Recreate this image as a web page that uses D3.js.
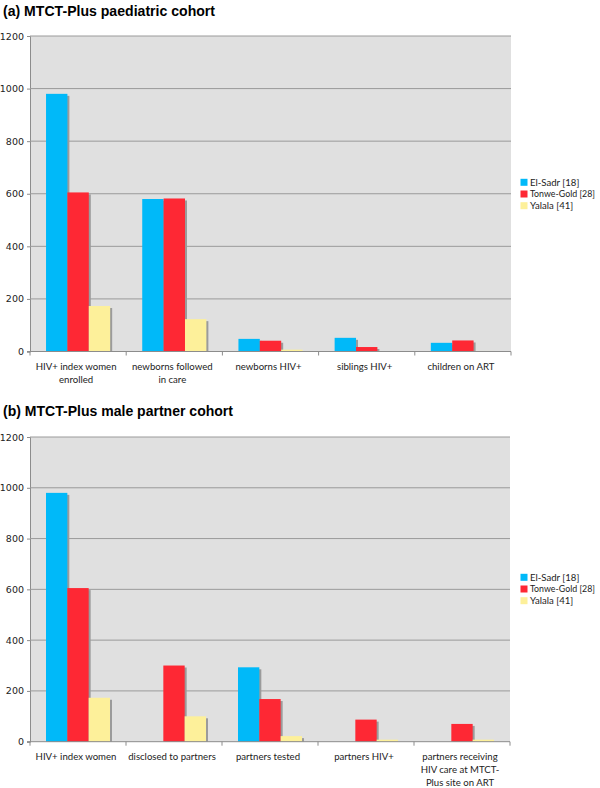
<!DOCTYPE html>
<html><head><meta charset="utf-8">
<script src="https://cdn.jsdelivr.net/npm/d3@7"></script>
<style>body{margin:0;background:#fff}svg{display:block}</style>
</head><body>
<svg id="chart" width="600" height="788"></svg>
<script>
const seriesNames = ["El-Sadr [18]", "Tonwe-Gold [28]", "Yalala [41]"];
const seriesColors = ["#00b9f9", "#fe2834", "#fdf09a"];
const yTicks = [0, 200, 400, 600, 800, 1000, 1200];

const titleA = "(a) MTCT-Plus paediatric cohort";
const categoriesA = ["HIV+ index women\nenrolled", "newborns followed\nin care", "newborns HIV+", "siblings HIV+", "children on ART"];
const elSadrA = [980, 580, 48, 52, 33];
const tonweA = [605, 582, 41, 17, 42];
const yalalaA = [173, 123, 7, 0, 2];

const titleB = "(b) MTCT-Plus male partner cohort";
const categoriesB = ["HIV+ index women", "disclosed to partners", "partners tested", "partners HIV+", "partners receiving\nHIV care at MTCT-\nPlus site on ART"];
const elSadrB = [980, 0, 293, 0, 0];
const tonweB = [605, 300, 168, 87, 70];
const yalalaB = [173, 100, 22, 8, 8];

const svg = d3.select("#chart");
const labelFont = "Lato, 'Liberation Sans', sans-serif";

function drawPanel(cfg) {
  const g = svg.append("g");
  g.append("text").attr("x", 3).attr("y", cfg.titleY)
    .attr("font-family", "'Liberation Sans', Arial, sans-serif")
    .attr("font-weight", "bold").attr("font-size", 15).attr("fill", "#000")
    .attr("textLength", cfg.titleLen).attr("lengthAdjust", "spacingAndGlyphs")
    .text(cfg.title);

  const x = d3.scaleBand().domain(cfg.categories).range([cfg.left, cfg.right]);
  const y = d3.scaleLinear().domain([0, 1200]).range([cfg.bottom, cfg.top]);
  const inner = d3.scaleBand().domain(d3.range(seriesNames.length))
    .range([0, x.bandwidth()]).paddingOuter(0.75).paddingInner(0);

  g.append("rect").attr("x", cfg.left).attr("y", cfg.top)
    .attr("width", cfg.right - cfg.left).attr("height", cfg.bottom - cfg.top)
    .attr("fill", "#e0e0e0");

  const yAxis = d3.axisLeft(y).tickValues(yTicks).tickFormat(d3.format("d")).tickSize(3).tickPadding(3);
  const ya = g.append("g").attr("transform", `translate(${cfg.left},0)`).call(yAxis);
  ya.select(".domain").attr("stroke", "#8c8c8c");
  ya.selectAll(".tick line").attr("stroke", "#8c8c8c");
  ya.selectAll(".tick text").attr("font-family", "'DejaVu Sans', sans-serif")
    .attr("font-size", 9.5).attr("fill", "#222");
  g.append("g").selectAll("line").data(yTicks.filter(t => t > 0)).join("line")
    .attr("x1", cfg.left).attr("x2", cfg.right)
    .attr("y1", d => y(d)).attr("y2", d => y(d))
    .attr("stroke", "#9a9a9a").attr("stroke-width", 1);

  const data = cfg.categories.map((c, i) => ({ c, vals: cfg.series.map(s => s[i]) }));

  const groups = g.append("g").selectAll("g").data(data).join("g")
    .attr("transform", d => `translate(${x(d.c)},0)`);
  groups.selectAll("rect.sh").data(d => d.vals.map((v, k) => ({ v, k }))).join("rect")
    .attr("class", "sh")
    .attr("x", d => inner(d.k) + 2)
    .attr("y", d => y(d.v) + 2)
    .attr("width", inner.bandwidth())
    .attr("height", d => Math.max(0, cfg.bottom - y(d.v) - 2))
    .attr("fill", "#9b9b9b").attr("opacity", d => d.v > 0 ? 1 : 0);
  groups.selectAll("rect.bar").data(d => d.vals.map((v, k) => ({ v, k }))).join("rect")
    .attr("class", "bar")
    .attr("x", d => inner(d.k))
    .attr("y", d => y(d.v))
    .attr("width", inner.bandwidth())
    .attr("height", d => cfg.bottom - y(d.v))
    .attr("fill", d => seriesColors[d.k]);

  const xa = g.append("g").attr("transform", `translate(0,${cfg.bottom})`);
  xa.append("line").attr("x1", cfg.left - 3).attr("x2", cfg.right)
    .attr("stroke", "#8c8c8c");
  const bounds = cfg.categories.map(c => x(c)).concat([cfg.right]);
  xa.selectAll("line.tk").data(bounds).join("line").attr("class", "tk")
    .attr("x1", d => d).attr("x2", d => d).attr("y1", 0).attr("y2", 4)
    .attr("stroke", "#8c8c8c");
  const lbl = xa.selectAll("text").data(cfg.categories).join("text")
    .attr("x", d => x(d) + x.bandwidth() / 2)
    .attr("y", 18.5)
    .attr("text-anchor", "middle")
    .attr("font-family", labelFont).attr("font-size", 9.6).attr("fill", "#222");
  lbl.each(function (d) {
    const t = d3.select(this);
    d.split("\n").forEach((line, i) => {
      t.append("tspan").attr("x", x(d) + x.bandwidth() / 2 - 2)
        .attr("dy", i === 0 ? 0 : 12.8).text(line);
    });
  });

  const lg = g.append("g").attr("transform", `translate(520.5,${cfg.legendY})`);
  seriesNames.forEach((n, i) => {
    lg.append("rect").attr("x", 0).attr("y", i * 11.7 - 3.5).attr("width", 7).attr("height", 7)
      .attr("fill", seriesColors[i]);
    const t = lg.append("text").attr("x", 9.5).attr("y", i * 11.7 + 3.5)
      .attr("font-family", labelFont).attr("font-size", 9.6).attr("fill", "#222")
      .text(n);
    const w = t.node().getComputedTextLength();
    if (w > 65) t.attr("textLength", 65).attr("lengthAdjust", "spacingAndGlyphs");
  });
}

drawPanel({
  title: titleA, titleY: 16, titleLen: 212, categories: categoriesA,
  series: [elSadrA, tonweA, yalalaA],
  left: 30, right: 511, top: 36, bottom: 351.5, legendY: 182.3
});
drawPanel({
  title: titleB, titleY: 415.5, titleLen: 230, categories: categoriesB,
  series: [elSadrB, tonweB, yalalaB],
  left: 30, right: 510, top: 437, bottom: 741.7, legendY: 577.3
});
</script>
</body></html>
